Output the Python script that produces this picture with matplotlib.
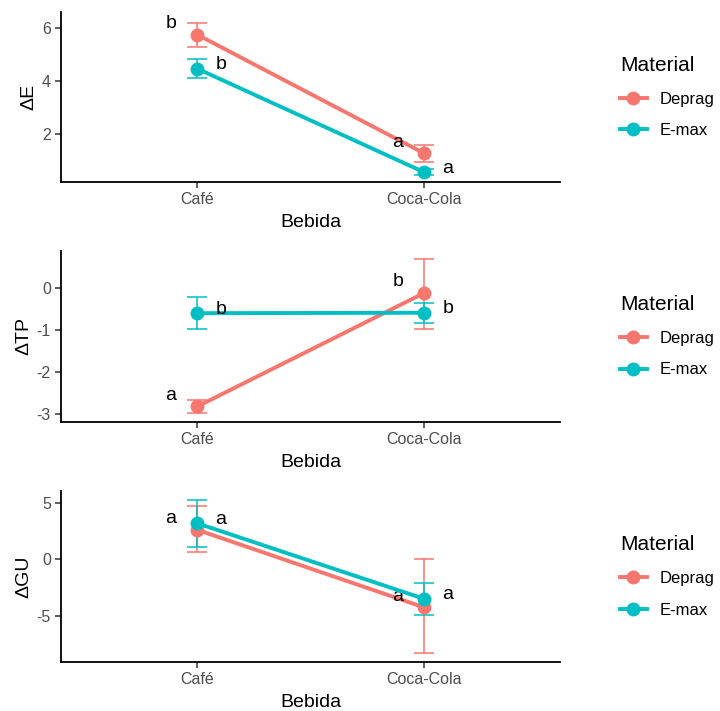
import matplotlib
matplotlib.use('Agg')
import matplotlib.pyplot as plt
from matplotlib.lines import Line2D
import numpy as np

plt.rcParams['font.family'] = ['Liberation Sans', 'DejaVu Sans']
plt.rcParams['axes.unicode_minus'] = False

# Data ------------------------------------------------------------------
bebidas = ['Café', 'Coca-Cola']
materiales = ['Deprag', 'E-max']
colores = ['#F8766D', '#00BFC4']

ylabels = ['ΔE', 'ΔTP', 'ΔGU']

# mean, lower, upper per material (Café, Coca-Cola)
dE_mean = {'Deprag': [5.75, 1.28], 'E-max': [4.47, 0.57]}
dE_low = {'Deprag': [5.30, 0.95], 'E-max': [4.10, 0.45]}
dE_high = {'Deprag': [6.20, 1.60], 'E-max': [4.85, 0.70]}
dE_letras = {'Deprag': ['b', 'a'], 'E-max': ['b', 'a']}

dTP_mean = {'Deprag': [-2.83, -0.13], 'E-max': [-0.61, -0.60]}
dTP_low = {'Deprag': [-2.98, -0.98], 'E-max': [-0.98, -0.84]}
dTP_high = {'Deprag': [-2.68, 0.68], 'E-max': [-0.23, -0.37]}
dTP_letras = {'Deprag': ['a', 'b'], 'E-max': ['b', 'b']}

dGU_mean = {'Deprag': [2.62, -4.26], 'E-max': [3.20, -3.50]}
dGU_low = {'Deprag': [0.62, -8.34], 'E-max': [1.10, -4.93]}
dGU_high = {'Deprag': [4.76, 0.00], 'E-max': [5.30, -2.10]}
dGU_letras = {'Deprag': ['a', 'a'], 'E-max': ['a', 'a']}

yticks = [[2, 4, 6], [-3, -2, -1, 0], [-5, 0, 5]]
ylims = [(0.2, 6.6), (-3.19, 0.87), (-9.1, 6.04)]

paneles = [
    (dE_mean, dE_low, dE_high, dE_letras),
    (dTP_mean, dTP_low, dTP_high, dTP_letras),
    (dGU_mean, dGU_low, dGU_high, dGU_letras),
]

# Figure ----------------------------------------------------------------
fig = plt.figure(figsize=(7.2, 7.11), dpi=100)
axes_pos = [
    [0.085, 0.744, 0.693, 0.239],
    [0.085, 0.407, 0.693, 0.240],
    [0.085, 0.069, 0.693, 0.240],
]
grey = '#4D4D4D'
x = np.arange(1, len(bebidas) + 1)
text_off = {'Deprag': (-19, 8), 'E-max': (17, 3)}

for i, (mean, low, high, letras) in enumerate(paneles):
    ax = fig.add_axes(axes_pos[i])
    for m, c in zip(materiales, colores):
        mu = np.array(mean[m])
        lo = mu - np.array(low[m])
        hi = np.array(high[m]) - mu
        ax.errorbar(x, mu, yerr=[lo, hi], fmt='none', ecolor=c,
                    elinewidth=1.1, capsize=7, capthick=1.1, zorder=2)
        ax.plot(x, mu, color=c, lw=2.8, marker='o', ms=9, zorder=3)
        for xi, yi, t in zip(x, mu, letras[m]):
            ax.annotate(t, (xi, yi), xytext=text_off[m], textcoords='offset points',
                        ha='center', va='center', fontsize=14, color='black')
    ax.set_xlim(0.4, 2.6)
    ax.set_ylim(*ylims[i])
    ax.set_xticks(x)
    ax.set_xticklabels(bebidas)
    ax.set_yticks(yticks[i])
    ax.tick_params(axis='both', colors='#333333', labelcolor=grey,
                   labelsize=11.5, width=1.1, length=4)
    for s in ['top', 'right']:
        ax.spines[s].set_visible(False)
    for s in ['left', 'bottom']:
        ax.spines[s].set_linewidth(1.3)
        ax.spines[s].set_color('black')
    ax.set_xlabel('Bebida', fontsize=14, labelpad=5)
    ax.set_ylabel(ylabels[i], fontsize=14, labelpad=3)

    handles = [Line2D([0], [0], color=c, lw=2.8, marker='o', ms=9) for c in colores]
    leg = ax.legend(handles, materiales, title='Material', loc='center left',
                    bbox_to_anchor=(1.09, 0.5), frameon=False, fontsize=12,
                    title_fontsize=15, alignment='left', handlelength=1.6,
                    handletextpad=0.8, labelspacing=1.0)

fig.savefig('out.png', dpi=100)
